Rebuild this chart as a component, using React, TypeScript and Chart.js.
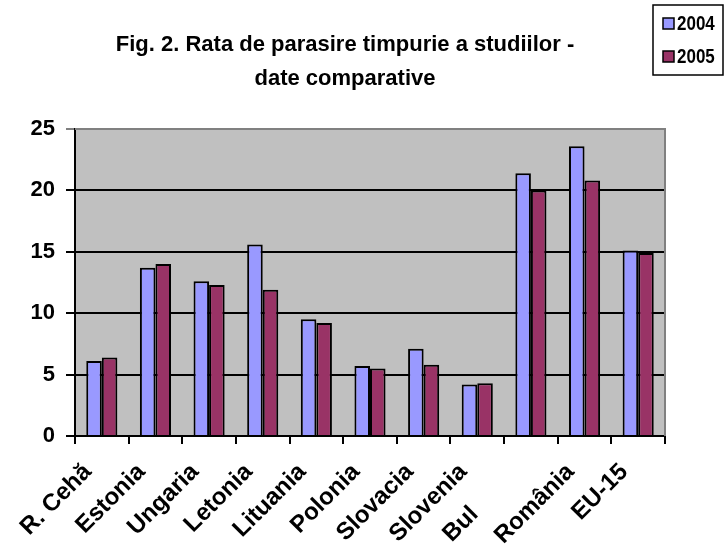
import React, { useEffect, useRef } from "react";
import { Chart, registerables } from "chart.js";

Chart.register(...registerables);

const categories = ["R. Cehă", "Estonia", "Ungaria", "Letonia", "Lituania", "Polonia", "Slovacia", "Slovenia", "Bul\u00a0\u00a0\u00a0\u00a0\u00a0\u00a0\u00a0\u00a0\u00a0", "România", "EU-15"];
const values2004 = [6.1, 13.7, 12.6, 15.6, 9.5, 5.7, 7.1, 4.2, 21.4, 23.6, 15.1];
const values2005 = [6.4, 14.0, 12.3, 11.9, 9.2, 5.5, 5.8, 4.3, 20.0, 20.8, 14.9];
const seriesNames = ["2004", "2005"];
const titleLines = ["Fig. 2. Rata de parasire timpurie a studiilor -", "date comparative"];
const yTicks = [0, 5, 10, 15, 20, 25];

const FONT = "'Liberation Sans', Arial, sans-serif";

const decorPlugin = {
  id: "decor",
  beforeDraw(chart: any) {
    const { ctx, chartArea } = chart;
    ctx.save();
    ctx.fillStyle = "#c0c0c0";
    ctx.fillRect(chartArea.left, chartArea.top, chartArea.right - chartArea.left, chartArea.bottom - chartArea.top);
    ctx.restore();
  },
  afterDatasetsDraw(chart: any) {
    const { ctx, chartArea } = chart;
    ctx.save();
    ctx.strokeStyle = "#808080";
    ctx.lineWidth = 2;
    ctx.beginPath();
    ctx.moveTo(chartArea.left, chartArea.top);
    ctx.lineTo(chartArea.right, chartArea.top);
    ctx.lineTo(chartArea.right, chartArea.bottom);
    ctx.stroke();
    ctx.restore();
  },
  afterDraw(chart: any) {
    const { ctx } = chart;
    ctx.save();
    // title
    ctx.fillStyle = "#000";
    ctx.font = `bold 22px ${FONT}`;
    ctx.textAlign = "center";
    ctx.textBaseline = "middle";
    ctx.fillText(titleLines[0], 345, 45);
    ctx.fillText(titleLines[1], 345, 79);
    // legend
    const bx = 653, by = 5, bw = 70, bh = 70;
    ctx.fillStyle = "#fff";
    ctx.fillRect(bx, by, bw, bh);
    ctx.strokeStyle = "#000";
    ctx.lineWidth = 1.5;
    ctx.strokeRect(bx, by, bw, bh);
    chart.data.datasets.forEach((ds: any, i: number) => {
      const cy = by + 18 + i * 33;
      ctx.fillStyle = ds.backgroundColor;
      ctx.fillRect(bx + 10, cy - 5, 11, 11);
      ctx.lineWidth = 1.5;
      ctx.strokeStyle = "#000";
      ctx.strokeRect(bx + 10, cy - 5, 11, 11);
      ctx.fillStyle = "#000";
      ctx.font = `bold 20px ${FONT}`;
      ctx.textAlign = "left";
      ctx.textBaseline = "middle";
      ctx.save();
      ctx.translate(bx + 24, cy + 1);
      ctx.scale(0.85, 1);
      ctx.fillText(ds.label, 0, 0);
      ctx.restore();
    });
    ctx.restore();
  },
};

export default function App() {
  const ref = useRef<HTMLCanvasElement>(null);
  useEffect(() => {
    if (!ref.current) return;
    const chart = new Chart(ref.current, {
      type: "bar",
      data: {
        labels: categories,
        datasets: [
          { label: seriesNames[0], data: values2004, backgroundColor: "#9999ff", borderColor: "#000", borderWidth: 2 },
          { label: seriesNames[1], data: values2005, backgroundColor: "#993366", borderColor: "#000", borderWidth: 2 },
        ],
      },
      options: {
        responsive: false,
        animation: false,
        devicePixelRatio: 1,
        categoryPercentage: 0.58,
        barPercentage: 1,
        layout: { padding: { top: 129, right: 62, left: 0, bottom: 0 } },
        plugins: { legend: { display: false }, title: { display: false }, tooltip: { enabled: false } },
        scales: {
          x: {
            grid: { offset: true, drawOnChartArea: false, drawTicks: true, tickLength: 8, color: "#000", lineWidth: 2 },
            border: { display: true, color: "#000", width: 2 },
            ticks: { minRotation: 45, maxRotation: 45, autoSkip: false, color: "#000", font: { family: FONT, size: 24, weight: "bold" }, padding: 14, labelOffset: -14 },
            afterFit(scale: any) { scale.height = 117; },
          },
          y: {
            min: 0,
            max: 25,
            afterBuildTicks(scale: any) { scale.ticks = yTicks.map((v) => ({ value: v })); },
            grid: {
              color: (c: any) => (c.tick && c.tick.value === 25 ? "#808080" : "#000"),
              lineWidth: 2,
              drawTicks: true,
              tickLength: 9,
            },
            border: { display: true, color: "#000", width: 2 },
            ticks: { color: "#000", font: { family: FONT, size: 22, weight: "bold" }, padding: 11 },
            afterFit(scale: any) { scale.width = 75; },
          },
        },
      },
      plugins: [decorPlugin],
    } as any);
    return () => chart.destroy();
  }, []);
  return (
    <div style={{ position: "absolute", left: 0, top: 0, width: 727, height: 553, background: "#fff" }}>
      <canvas ref={ref} width={727} height={553} style={{ width: 727, height: 553, display: "block" }} />
    </div>
  );
}
